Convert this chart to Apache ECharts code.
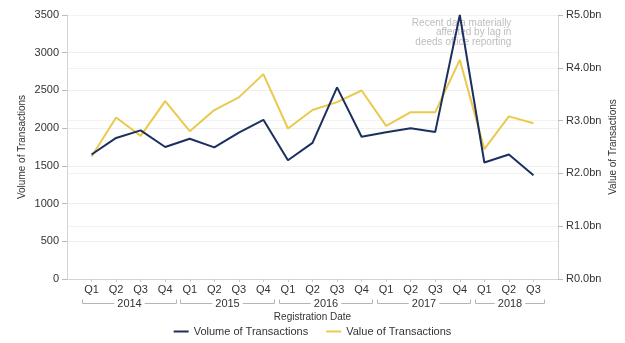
<!DOCTYPE html>
<html>
<head>
<meta charset="utf-8">
<script src="https://cdn.jsdelivr.net/npm/echarts@6/dist/echarts.min.js"></script>
<style>
  html, body { margin: 0; padding: 0; background: #fff; }
  #chart { width: 625px; height: 343px; }
</style>
</head>
<body>
<div id="chart"></div>
<script>
// Quarterly property registrations, 2014 Q1 - 2018 Q3
const quarters = ['Q1','Q2','Q3','Q4','Q1','Q2','Q3','Q4','Q1','Q2','Q3','Q4','Q1','Q2','Q3','Q4','Q1','Q2','Q3'];
const years = ['2014','2015','2016','2017','2018'];
const quartersPerYear = [4, 4, 4, 4, 3];
// number of transactions (left axis)
const volume = [1650, 1870, 1970, 1750, 1860, 1745, 1940, 2110, 1575, 1805, 2540, 1885, 1945, 2000, 1950, 3500, 1545, 1650, 1375];
// value of transactions in R billion (right axis)
const valueBn = [2.32, 3.06, 2.71, 3.37, 2.80, 3.20, 3.44, 3.88, 2.85, 3.20, 3.35, 3.57, 2.90, 3.16, 3.16, 4.15, 2.46, 3.08, 2.95];
const volTicks = { min: 0, max: 3500, interval: 500 };
const valTicks = { min: 0, max: 5, interval: 1 };
const noteText = 'Recent data materially\naffected by lag in\ndeeds office reporting';

const FONT = '"Liberation Sans", Arial, sans-serif';
const NAVY = '#1c2f5f';
const GOLD = '#e9ca4c';

// padded category axis: one empty slot at each end
const cats = [''].concat(quarters, ['']);

const chart = echarts.init(document.getElementById('chart'));
const option = {
  animation: false,
  textStyle: { fontFamily: FONT },
  grid: { left: 67, right: 67, top: 15, bottom: 64, outerBoundsMode: 'none', containLabel: false },
  legend: {
    bottom: 1,
    left: 'center',
    icon: 'rect',
    itemWidth: 15,
    itemHeight: 2,
    itemGap: 18,
    textStyle: { fontFamily: FONT, fontSize: 11, color: '#333' },
    data: ['Volume of Transactions', 'Value of Transactions']
  },
  xAxis: {
    type: 'category',
    data: cats,
    boundaryGap: false,
    name: 'Registration Date',
    nameLocation: 'middle',
    nameGap: 33,
    nameMoveOverlap: false,
    nameTextStyle: { fontFamily: FONT, fontSize: 10, color: '#333' },
    axisLine: { lineStyle: { color: '#d4d4d4' } },
    axisTick: { length: 3, lineStyle: { color: '#c8c8c8' }, interval: (i, v) => v !== '' },
    axisLabel: { interval: 0, margin: 5, fontSize: 11, color: '#333', fontFamily: FONT },
    splitLine: { show: false }
  },
  yAxis: [
    {
      type: 'value',
      position: 'left',
      min: volTicks.min, max: volTicks.max, interval: volTicks.interval,
      name: 'Volume of Transactions',
      nameLocation: 'middle',
      nameGap: 40,
      nameMoveOverlap: false,
      nameTextStyle: { fontFamily: FONT, fontSize: 10, color: '#333' },
      axisLine: { show: true, lineStyle: { color: '#d4d4d4' } },
      axisTick: { show: true, length: 5, lineStyle: { color: '#bbb' } },
      axisLabel: { margin: 8, fontSize: 11, color: '#333', fontFamily: FONT,
        formatter: v => String(v) },
      splitLine: { lineStyle: { color: '#efefef' } }
    },
    {
      type: 'value',
      position: 'right',
      min: valTicks.min, max: valTicks.max, interval: valTicks.interval,
      name: 'Value of Transactions',
      nameLocation: 'middle',
      nameGap: 50,
      nameMoveOverlap: false,
      nameTextStyle: { fontFamily: FONT, fontSize: 10, color: '#333' },
      axisLine: { show: true, lineStyle: { color: '#d4d4d4' } },
      axisTick: { show: true, length: 5, lineStyle: { color: '#bbb' } },
      axisLabel: { margin: 8, fontSize: 11, color: '#333', fontFamily: FONT,
        formatter: v => 'R' + v.toFixed(1) + 'bn' },
      splitLine: { lineStyle: { color: '#f2f2f2' } }
    }
  ],
  series: [
    {
      name: 'Volume of Transactions',
      type: 'line',
      yAxisIndex: 0,
      symbol: 'none',
      color: NAVY,
      lineStyle: { width: 2, color: NAVY },
      data: volume.map((v, i) => [i + 1, v]),
      z: 3
    },
    {
      name: 'Value of Transactions',
      type: 'line',
      yAxisIndex: 1,
      symbol: 'none',
      color: GOLD,
      lineStyle: { width: 2, color: GOLD },
      data: valueBn.map((v, i) => [i + 1, v]),
      z: 2
    }
  ]
};
chart.setOption(option);

// Year group brackets under the quarter labels, plus the reporting-lag note
function drawExtras() {
  const px = i => chart.convertToPixel({ xAxisIndex: 0 }, i);
  const step = px(2) - px(1);
  const baseY = chart.convertToPixel({ yAxisIndex: 0 }, 0);
  const lineY = baseY + 24.5;
  const elements = [];
  let start = 1;
  years.forEach((yr, k) => {
    const end = start + quartersPerYear[k] - 1;
    const x0 = Math.round(px(start) - step * 0.38) + 0.5;
    const x1 = Math.round(px(end) + step * 0.42) + 0.5;
    elements.push({
      type: 'polyline',
      silent: true,
      shape: { points: [[x0, lineY - 4], [x0, lineY], [x1, lineY], [x1, lineY - 4]] },
      style: { stroke: '#b5b5b5', lineWidth: 1, fill: null }
    });
    elements.push({
      type: 'text',
      silent: true,
      x: (x0 + x1) / 2,
      y: lineY,
      style: {
        text: yr, fontFamily: FONT, fontSize: 11, fill: '#333',
        align: 'center', verticalAlign: 'middle',
        backgroundColor: '#fff', padding: [0, 3]
      },
      z: 10
    });
    start = end + 1;
  });
  const noteX = px(16) + step * 2.1;
  elements.push({
    type: 'text',
    silent: true,
    x: noteX,
    y: 18,
    style: {
      text: noteText, fontFamily: FONT, fontSize: 10, fill: '#bdbdbd',
      align: 'right', verticalAlign: 'top', lineHeight: 9.8
    },
    z: 1
  });
  chart.setOption({ graphic: { elements: elements } });
}
drawExtras();
</script>
</body>
</html>
